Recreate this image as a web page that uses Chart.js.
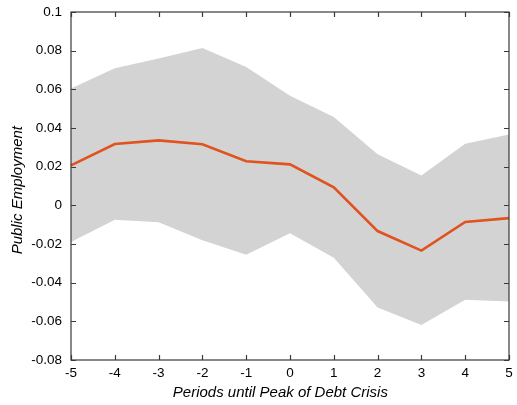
<!DOCTYPE html>
<html>
<head>
<meta charset="utf-8">
<script src="https://cdn.jsdelivr.net/npm/chart.js@4/dist/chart.umd.min.js"></script>
<style>
html,body{margin:0;padding:0;background:#fff;}
#wrap{width:517px;height:405px;}
</style>
</head>
<body>
<div id="wrap"><canvas id="c" width="517" height="405"></canvas></div>
<script>
const periods = [-5,-4,-3,-2,-1,0,1,2,3,4,5];
const estimate = [0.0207,0.0317,0.0336,0.0316,0.0228,0.0212,0.0093,-0.0133,-0.0234,-0.0086,-0.0066];
const upperBand = [0.0604,0.0709,0.0760,0.0814,0.0716,0.0567,0.0457,0.0264,0.0154,0.0319,0.0367];
const lowerBand = [-0.0190,-0.0074,-0.0088,-0.0181,-0.0255,-0.0145,-0.0271,-0.0529,-0.0619,-0.0488,-0.0498];
const yTicks = [0.1,0.08,0.06,0.04,0.02,0,-0.02,-0.04,-0.06,-0.08];
const xTitle = 'Periods until Peak of Debt Crisis';
const yTitle = 'Public Employment';

const frame = {
  id:'frame',
  afterDraw(chart){
    const {ctx, chartArea:a, scales} = chart;
    ctx.save();
    ctx.strokeStyle = '#3a3a3a';
    ctx.lineWidth = 1.2;
    ctx.strokeRect(a.left, a.top, a.right-a.left, a.bottom-a.top);
    const L = 5;
    ctx.beginPath();
    periods.forEach((p,i)=>{
      const x = Math.round(scales.x.getPixelForValue(i))+0.5;
      ctx.moveTo(x,a.bottom); ctx.lineTo(x,a.bottom-L);
      ctx.moveTo(x,a.top); ctx.lineTo(x,a.top+L);
    });
    yTicks.forEach(v=>{
      const y = Math.round(scales.y.getPixelForValue(v))+0.5;
      ctx.moveTo(a.left,y); ctx.lineTo(a.left+L,y);
      ctx.moveTo(a.right,y); ctx.lineTo(a.right-L,y);
    });
    ctx.stroke();
    // axis titles
    ctx.fillStyle = '#000';
    ctx.font = 'italic 15px "Liberation Sans", Arial, sans-serif';
    ctx.textAlign = 'center';
    ctx.textBaseline = 'middle';
    ctx.fillText(xTitle, a.left + (a.right-a.left)*0.478, 393);
    ctx.translate(17.5, a.top + (a.bottom-a.top)*0.512);
    ctx.rotate(-Math.PI/2);
    ctx.fillText(yTitle, 0, 0);
    ctx.restore();
  }
};

new Chart(document.getElementById('c'), {
  type:'line',
  data:{
    labels: periods.map(String),
    datasets:[
      {data:estimate, borderColor:'#e0531f', borderWidth:2.6, pointRadius:0, fill:false, tension:0, order:0},
      {data:upperBand, borderWidth:0, borderColor:'rgba(0,0,0,0)', backgroundColor:'#d3d3d3', pointRadius:0, fill:'+1', tension:0, order:1},
      {data:lowerBand, borderWidth:0, borderColor:'rgba(0,0,0,0)', pointRadius:0, fill:false, tension:0, order:1}
    ]
  },
  options:{
    responsive:false,
    animation:false,
    devicePixelRatio:1,
    layout:{padding:{left:0,right:8,top:12,bottom:0}},
    plugins:{legend:{display:false}, tooltip:{enabled:false}},
    scales:{
      x:{
        type:'category',
        offset:false,
        grid:{display:false, drawTicks:false},
        border:{display:false},
        ticks:{color:'#000', font:{family:'Liberation Sans, Arial', size:13.5}, padding:5.5, maxRotation:0},
        afterFit(s){ s.height = 45; s.paddingLeft = 0; s.paddingRight = 0; }
      },
      y:{
        min:-0.08, max:0.1,
        grid:{display:false, drawTicks:false},
        border:{display:false},
        afterBuildTicks(s){ s.ticks = yTicks.map(v=>({value:v})); },
        ticks:{color:'#000', font:{family:'Liberation Sans, Arial', size:13.5}, padding:9,
          callback:(v)=>String(Math.round(v*100)/100)},
        afterFit(s){ s.width = 71; s.paddingTop = 0; s.paddingBottom = 0; }
      }
    }
  },
  plugins:[frame]
});
</script>
</body>
</html>
